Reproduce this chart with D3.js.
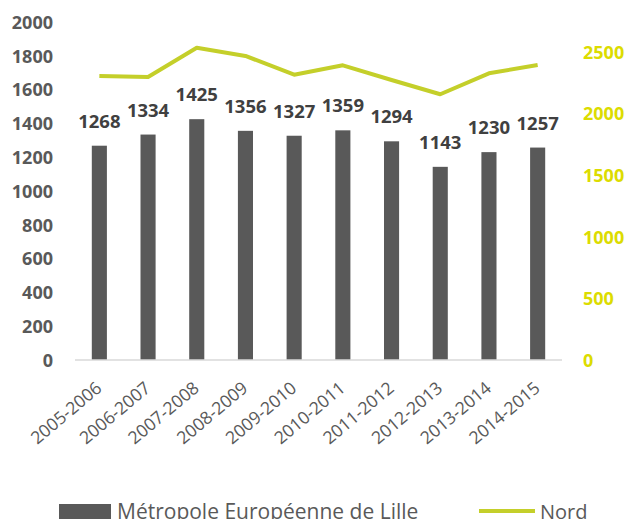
<!DOCTYPE html>
<html>
<head>
<meta charset="utf-8">
<script src="https://cdn.jsdelivr.net/npm/d3@7"></script>
<style>
  html, body { margin: 0; padding: 0; background: #fff; }
  svg { display: block; font-family: "Open Sans", sans-serif; }
</style>
</head>
<body>
<svg id="chart" width="627" height="519"></svg>
<script>
// School years on the x axis
const seasons = ["2005-2006", "2006-2007", "2007-2008", "2008-2009", "2009-2010",
                 "2010-2011", "2011-2012", "2012-2013", "2013-2014", "2014-2015"];
// Métropole Européenne de Lille (bars, left axis)
const lilleValues = [1268, 1334, 1425, 1356, 1327, 1359, 1294, 1143, 1230, 1257];
// Nord (line, right axis)
const nordValues = [2305, 2297, 2535, 2468, 2316, 2392, 2273, 2157, 2327, 2394];
// Axis ticks
const leftTicks = [0, 200, 400, 600, 800, 1000, 1200, 1400, 1600, 1800, 2000];
const rightTicks = [0, 500, 1000, 1500, 2000, 2500];
const seriesNames = ["Métropole Européenne de Lille", "Nord"];

const barColor = "#595959";
const lineColor = "#c4cf2a";
const rightAxisColor = "#dcdc00";
const textColor = "#595959";

const svg = d3.select("#chart");

const plot = { left: 75, right: 562, top: 22, bottom: 360 };

const x = d3.scaleBand()
  .domain(seasons)
  .range([plot.left, plot.right])
  .paddingInner(0.69)
  .paddingOuter(0.345);

const yLeft = d3.scaleLinear().domain([0, 2000]).range([plot.bottom, plot.top]);
const yRight = d3.scaleLinear().domain([0, 2500]).range([plot.bottom, 52]);

// Left axis labels
const leftAxis = d3.axisLeft(yLeft).tickValues(leftTicks).tickFormat(d3.format("d"))
  .tickSize(0).tickPadding(0);
const gl = svg.append("g").attr("transform", "translate(53,0)").call(leftAxis);
gl.select(".domain").remove();
gl.selectAll("text")
  .attr("fill", textColor)
  .attr("font-size", 18)
  .attr("font-weight", "bold")
  .attr("font-family", "Open Sans, sans-serif")
  .attr("dy", "0.35em");

// Right axis labels
const rightAxis = d3.axisRight(yRight).tickValues(rightTicks).tickFormat(d3.format("d"))
  .tickSize(0).tickPadding(0);
const gr = svg.append("g").attr("transform", "translate(583,0)").call(rightAxis);
gr.select(".domain").remove();
gr.selectAll("text")
  .attr("fill", rightAxisColor)
  .attr("font-size", 18)
  .attr("font-weight", "bold")
  .attr("font-family", "Open Sans, sans-serif")
  .attr("dy", "0.35em");

// Bars
svg.append("g").selectAll("rect")
  .data(lilleValues)
  .join("rect")
  .attr("x", (d, i) => x(seasons[i]))
  .attr("y", d => yLeft(d))
  .attr("width", x.bandwidth())
  .attr("height", d => yLeft(0) - yLeft(d))
  .attr("fill", barColor);

// Baseline
svg.append("line")
  .attr("x1", plot.left).attr("x2", plot.right)
  .attr("y1", yLeft(0)).attr("y2", yLeft(0))
  .attr("stroke", "#d9d9d9").attr("stroke-width", 1.5);

// Value labels above bars
svg.append("g").selectAll("text")
  .data(lilleValues)
  .join("text")
  .attr("x", (d, i) => x(seasons[i]) + x.bandwidth() / 2)
  .attr("y", d => yLeft(d) - 18)
  .attr("text-anchor", "middle")
  .attr("font-size", 18.5)
  .attr("font-weight", "bold")
  .attr("fill", "#404040")
  .text(d => d);

// Nord line
const line = d3.line()
  .x((d, i) => x(seasons[i]) + x.bandwidth() / 2)
  .y(d => yRight(d));
svg.append("path")
  .datum(nordValues)
  .attr("d", line)
  .attr("fill", "none")
  .attr("stroke", lineColor)
  .attr("stroke-width", 4)
  .attr("stroke-linejoin", "round");

// Rotated x labels
svg.append("g").selectAll("text")
  .data(seasons)
  .join("text")
  .attr("transform", d => `translate(${x(d) + x.bandwidth() / 2 + 3.5},390) rotate(-40)`)
  .attr("text-anchor", "end")
  .attr("font-size", 17.5)
  .attr("fill", textColor)
  .text(d => d);

// Legend
const legend = svg.append("g");
legend.append("rect")
  .attr("x", 59).attr("y", 504).attr("width", 52).attr("height", 15)
  .attr("fill", barColor);
legend.append("text")
  .attr("x", 117).attr("y", 518.5)
  .attr("font-size", 21)
  .attr("fill", textColor)
  .text(seriesNames[0]);
legend.append("line")
  .attr("x1", 479).attr("x2", 535).attr("y1", 511).attr("y2", 511)
  .attr("stroke", lineColor).attr("stroke-width", 4);
legend.append("text")
  .attr("x", 540).attr("y", 518.5)
  .attr("font-size", 20)
  .attr("fill", textColor)
  .text(seriesNames[1]);
</script>
</body>
</html>
